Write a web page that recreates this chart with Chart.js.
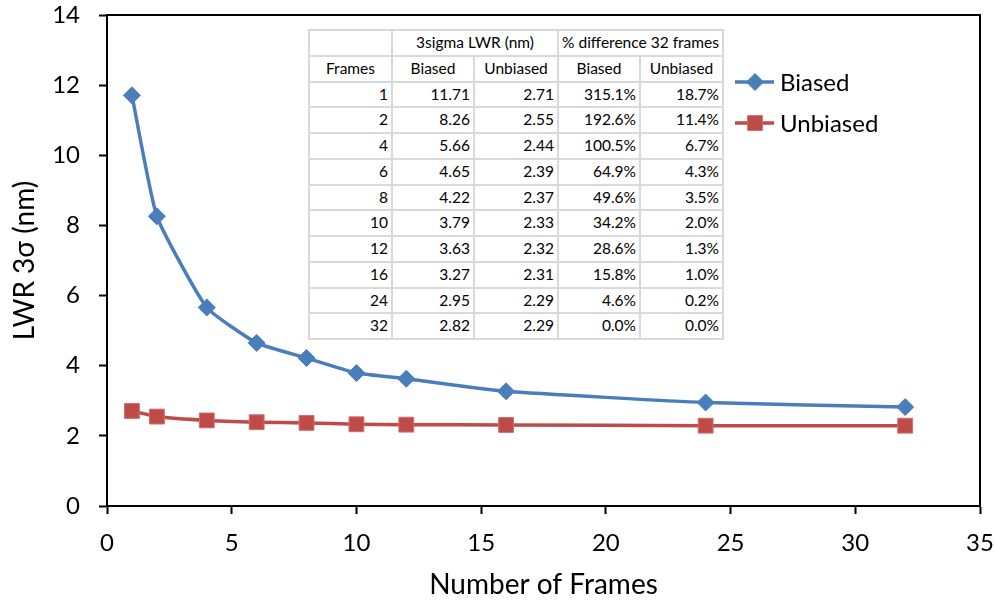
<!DOCTYPE html>
<html>
<head>
<meta charset="utf-8">
<script src="https://cdn.jsdelivr.net/npm/chart.js@4"></script>
<style>
  html, body { margin: 0; padding: 0; background: #fff; }
  #wrap { position: relative; width: 995px; height: 602px; }
  #tbl { position: absolute; left: 308px; top: 29px; width: 414px; height: 309px;
         border-collapse: collapse; background: #fff; font-family: Lato, sans-serif;
         font-size: 15.5px; color: #000; table-layout: fixed; }
  #tbl td { border: 2px solid #d9d9d9; padding: 0 3px 0 3px; height: 23.75px; white-space: nowrap; line-height: 1; }
  #tbl td.c { text-align: center; }
  #tbl td.r { text-align: right; }
</style>
</head>
<body>
<div id="wrap">
  <canvas id="c" width="995" height="602"></canvas>
  <table id="tbl"></table>
</div>
<script>
const frames = [1, 2, 4, 6, 8, 10, 12, 16, 24, 32];
const biased = [11.71, 8.26, 5.66, 4.65, 4.22, 3.79, 3.63, 3.27, 2.95, 2.82];
const unbiased = [2.71, 2.55, 2.44, 2.39, 2.37, 2.33, 2.32, 2.31, 2.29, 2.29];
const biasedPct = ['315.1%', '192.6%', '100.5%', '64.9%', '49.6%', '34.2%', '28.6%', '15.8%', '4.6%', '0.0%'];
const unbiasedPct = ['18.7%', '11.4%', '6.7%', '4.3%', '3.5%', '2.0%', '1.3%', '1.0%', '0.2%', '0.0%'];
const seriesNames = ['Biased', 'Unbiased'];
const xTitle = 'Number of Frames';
const yTitle = 'LWR 3σ (nm)';
const tableHead1 = ['', '3sigma LWR (nm)', '% difference 32 frames'];
const tableHead2 = ['Frames', 'Biased', 'Unbiased', 'Biased', 'Unbiased'];

// Build table
const tbl = document.getElementById('tbl');
let html = '<colgroup><col style="width:83px"><col style="width:82px"><col style="width:84px"><col style="width:82px"><col style="width:83px"></colgroup>';
html += '<tr><td></td><td class="c" colspan="2">' + tableHead1[1] + '</td><td class="c" colspan="2">' + tableHead1[2] + '</td></tr>';
html += '<tr>' + tableHead2.map(h => '<td class="c">' + h + '</td>').join('') + '</tr>';
for (let i = 0; i < frames.length; i++) {
  html += '<tr><td class="r">' + frames[i] + '</td><td class="r">' + biased[i].toFixed(2) +
    '</td><td class="r">' + unbiased[i].toFixed(2) + '</td><td class="r">' + biasedPct[i] +
    '</td><td class="r">' + unbiasedPct[i] + '</td></tr>';
}
tbl.innerHTML = html;

const FONT = 'Lato, sans-serif';

const boxPlugin = {
  id: 'box',
  afterDraw(chart) {
    const {ctx, chartArea: a} = chart;
    ctx.save();
    ctx.strokeStyle = '#000';
    ctx.lineWidth = 2;
    ctx.beginPath();
    ctx.moveTo(a.left, a.top);
    ctx.lineTo(a.right, a.top);
    ctx.lineTo(a.right, a.bottom);
    ctx.stroke();
    ctx.restore();
  }
};

const legendPlugin = {
  id: 'customLegend',
  afterDraw(chart) {
    const ctx = chart.ctx;
    const ys = [82, 123];
    chart.data.datasets.forEach((ds, i) => {
      const y = ys[i];
      ctx.save();
      ctx.strokeStyle = ds.borderColor;
      ctx.lineWidth = ds.borderWidth;
      ctx.beginPath();
      ctx.moveTo(735, y);
      ctx.lineTo(774, y);
      ctx.stroke();
      ctx.fillStyle = ds.pointBackgroundColor;
      ctx.strokeStyle = ds.pointBorderColor;
      ctx.lineWidth = 1;
      Chart.helpers.drawPoint(ctx, {pointStyle: ds.pointStyle, radius: ds.pointRadius, rotation: 0, borderWidth: 1}, 755, y);
      ctx.fillStyle = '#000';
      ctx.font = '24px ' + FONT;
      ctx.textBaseline = 'middle';
      ctx.textAlign = 'left';
      ctx.fillText(ds.label, 780, y + 1);
      ctx.restore();
    });
  }
};

function resetPad(s) {
  s.paddingTop = 0; s.paddingBottom = 0; s.paddingLeft = 0; s.paddingRight = 0;
}

new Chart(document.getElementById('c'), {
  type: 'line',
  data: {
    datasets: [
      {
        label: seriesNames[0],
        data: frames.map((f, i) => ({x: f, y: biased[i]})),
        borderColor: '#4a7ebb',
        backgroundColor: '#4a7ebb',
        pointBackgroundColor: '#4a7ebb',
        pointBorderColor: '#4a7ebb',
        borderWidth: 3.5,
        pointStyle: 'rectRot',
        pointRadius: 8.5,
        pointBorderWidth: 1,
        tension: 0.15
      },
      {
        label: seriesNames[1],
        data: frames.map((f, i) => ({x: f, y: unbiased[i]})),
        borderColor: '#be4b48',
        backgroundColor: '#be4b48',
        pointBackgroundColor: '#be4b48',
        pointBorderColor: '#d06f6c',
        borderWidth: 3.5,
        pointStyle: 'rect',
        pointRadius: 10.5,
        pointBorderWidth: 1,
        tension: 0.15
      }
    ]
  },
  options: {
    responsive: false,
    animation: false,
    devicePixelRatio: 1,
    layout: { padding: { left: 0, right: 15, top: 15, bottom: 0 } },
    plugins: { legend: { display: false }, tooltip: { enabled: false } },
    scales: {
      x: {
        type: 'linear', min: 0, max: 35,
        ticks: { stepSize: 5, color: '#000', font: { family: FONT, size: 24 }, padding: 15, maxRotation: 0 },
        grid: { drawOnChartArea: false, drawTicks: true, tickLength: 8, color: '#000', tickWidth: 2 },
        border: { display: true, color: '#000', width: 2 },
        title: { display: true, text: xTitle, color: '#000', font: { family: FONT, size: 28 }, padding: { top: 0, bottom: 0 } },
        afterFit(s) { s.height = 96; resetPad(s); }
      },
      y: {
        type: 'linear', min: 0, max: 14,
        ticks: { stepSize: 2, color: '#000', font: { family: FONT, size: 24 }, padding: 19 },
        grid: { drawOnChartArea: false, drawTicks: true, tickLength: 8, color: '#000', tickWidth: 2 },
        border: { display: true, color: '#000', width: 2 },
        title: { display: true, text: yTitle, color: '#000', font: { family: FONT, size: 28 }, padding: { top: 8, bottom: 0 } },
        afterFit(s) { s.width = 107; resetPad(s); }
      }
    }
  },
  plugins: [boxPlugin, legendPlugin]
});
</script>
</body>
</html>
